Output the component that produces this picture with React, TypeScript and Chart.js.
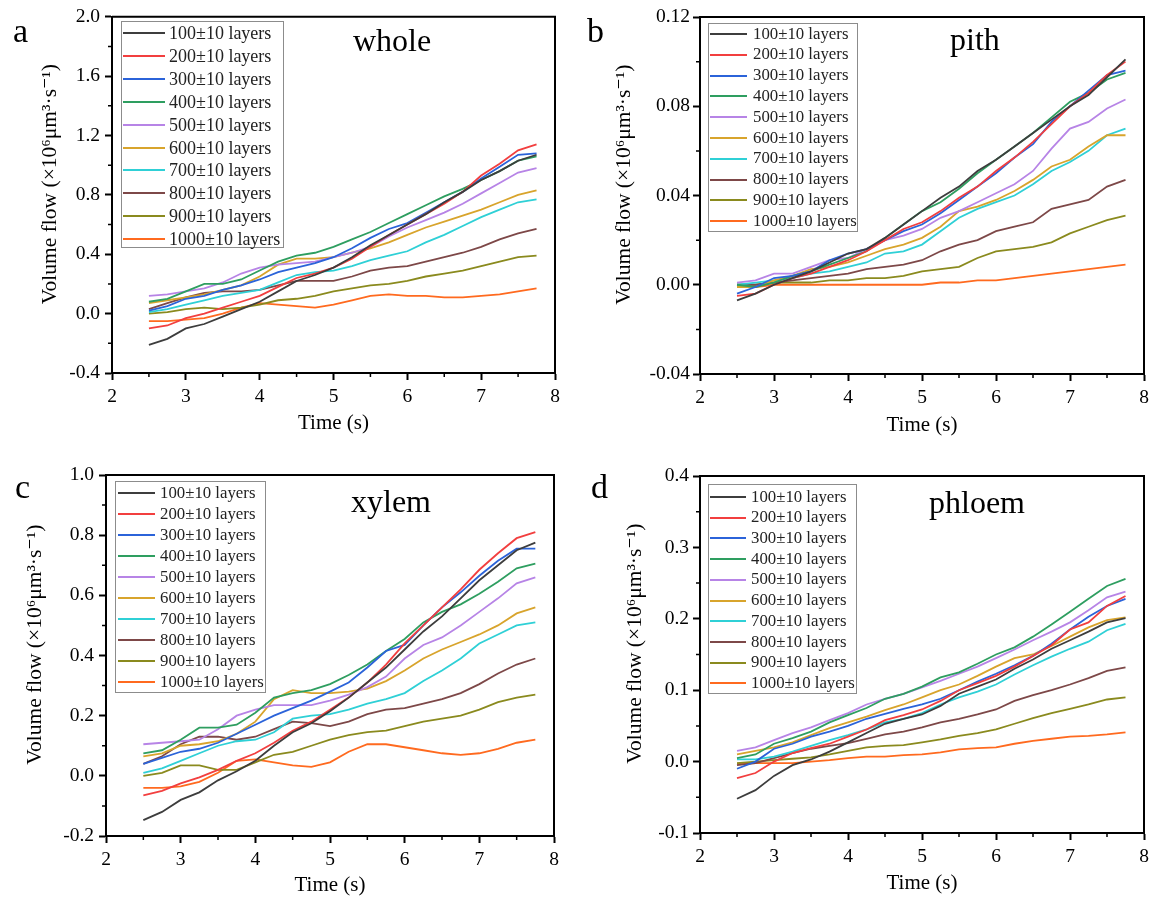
import React, { useEffect, useRef } from "react";
import { Chart, registerables } from "chart.js";

Chart.register(...registerables);

// ---------- data ----------
const timeS = [2.5, 2.75, 3, 3.25, 3.5, 3.75, 4, 4.25, 4.5, 4.75, 5, 5.25, 5.5, 5.75, 6, 6.25, 6.5, 6.75, 7, 7.25, 7.5, 7.75];

const layerLabels = [
  "100±10 layers", "200±10 layers", "300±10 layers", "400±10 layers", "500±10 layers",
  "600±10 layers", "700±10 layers", "800±10 layers", "900±10 layers", "1000±10 layers",
];

const layerColors = ["#3d3d3d", "#f23f3f", "#2b63d9", "#2e9e60", "#b784e6", "#d8a42c", "#2fd0d6", "#7d4848", "#8a8a1e", "#ff6a1f"];

const xTicks = [2, 3, 4, 5, 6, 7, 8];
const wholeTicks = [-0.4, 0, 0.4, 0.8, 1.2, 1.6, 2.0];
const pithTicks = [-0.04, 0, 0.04, 0.08, 0.12];
const xylemTicks = [-0.2, 0, 0.2, 0.4, 0.6, 0.8, 1.0];
const phloemTicks = [-0.1, 0, 0.1, 0.2, 0.3, 0.4];

const wholeFlow: number[][] = [
  [-0.21, -0.17, -0.10, -0.07, -0.02, 0.03, 0.08, 0.15, 0.22, 0.26, 0.31, 0.38, 0.46, 0.53, 0.60, 0.67, 0.75, 0.82, 0.90, 0.96, 1.03, 1.07],
  [-0.10, -0.08, -0.03, 0.00, 0.04, 0.08, 0.12, 0.18, 0.24, 0.27, 0.31, 0.37, 0.45, 0.53, 0.60, 0.67, 0.74, 0.82, 0.93, 1.01, 1.10, 1.14],
  [0.02, 0.05, 0.10, 0.12, 0.16, 0.19, 0.23, 0.28, 0.31, 0.34, 0.38, 0.44, 0.51, 0.57, 0.61, 0.68, 0.75, 0.82, 0.91, 0.99, 1.07, 1.08],
  [0.08, 0.10, 0.15, 0.20, 0.20, 0.23, 0.29, 0.35, 0.39, 0.41, 0.45, 0.50, 0.55, 0.61, 0.67, 0.73, 0.79, 0.84, 0.90, 0.96, 1.03, 1.06],
  [0.12, 0.13, 0.15, 0.17, 0.21, 0.27, 0.31, 0.33, 0.34, 0.35, 0.38, 0.41, 0.45, 0.52, 0.58, 0.63, 0.68, 0.74, 0.81, 0.88, 0.95, 0.98],
  [0.07, 0.09, 0.11, 0.13, 0.16, 0.19, 0.25, 0.33, 0.37, 0.37, 0.38, 0.41, 0.44, 0.48, 0.53, 0.58, 0.62, 0.66, 0.70, 0.75, 0.80, 0.83],
  [0.01, 0.03, 0.06, 0.09, 0.12, 0.14, 0.16, 0.21, 0.26, 0.28, 0.29, 0.32, 0.36, 0.39, 0.42, 0.48, 0.53, 0.59, 0.65, 0.70, 0.75, 0.77],
  [0.03, 0.07, 0.11, 0.14, 0.15, 0.15, 0.16, 0.19, 0.22, 0.22, 0.22, 0.25, 0.29, 0.31, 0.32, 0.35, 0.38, 0.41, 0.45, 0.50, 0.54, 0.57],
  [0.00, 0.01, 0.03, 0.04, 0.03, 0.04, 0.06, 0.09, 0.10, 0.12, 0.15, 0.17, 0.19, 0.20, 0.22, 0.25, 0.27, 0.29, 0.32, 0.35, 0.38, 0.39],
  [-0.05, -0.05, -0.04, -0.03, 0.00, 0.04, 0.07, 0.06, 0.05, 0.04, 0.06, 0.09, 0.12, 0.13, 0.12, 0.12, 0.11, 0.11, 0.12, 0.13, 0.15, 0.17],
];

const pithFlow: number[][] = [
  [-0.007, -0.004, 0.000, 0.003, 0.006, 0.010, 0.014, 0.016, 0.021, 0.027, 0.033, 0.039, 0.044, 0.051, 0.056, 0.062, 0.068, 0.074, 0.080, 0.085, 0.093, 0.101],
  [-0.005, -0.004, 0.000, 0.003, 0.005, 0.008, 0.011, 0.015, 0.020, 0.025, 0.028, 0.033, 0.039, 0.044, 0.051, 0.057, 0.064, 0.072, 0.080, 0.086, 0.094, 0.100],
  [-0.004, -0.001, 0.003, 0.004, 0.006, 0.011, 0.014, 0.016, 0.020, 0.024, 0.027, 0.032, 0.038, 0.044, 0.050, 0.057, 0.063, 0.073, 0.080, 0.087, 0.094, 0.096],
  [0.000, -0.001, 0.001, 0.004, 0.006, 0.009, 0.012, 0.015, 0.021, 0.027, 0.033, 0.037, 0.043, 0.050, 0.056, 0.062, 0.068, 0.075, 0.082, 0.086, 0.092, 0.095],
  [0.001, 0.002, 0.005, 0.005, 0.008, 0.011, 0.012, 0.016, 0.020, 0.022, 0.025, 0.030, 0.033, 0.037, 0.041, 0.045, 0.051, 0.061, 0.070, 0.073, 0.079, 0.083],
  [-0.001, -0.001, 0.002, 0.004, 0.007, 0.008, 0.010, 0.013, 0.016, 0.018, 0.021, 0.026, 0.033, 0.035, 0.038, 0.042, 0.047, 0.053, 0.056, 0.062, 0.067, 0.067],
  [0.000, 0.001, 0.002, 0.003, 0.005, 0.006, 0.008, 0.010, 0.014, 0.015, 0.018, 0.024, 0.030, 0.034, 0.037, 0.040, 0.045, 0.051, 0.055, 0.060, 0.067, 0.070],
  [0.000, 0.000, 0.001, 0.002, 0.003, 0.004, 0.005, 0.007, 0.008, 0.009, 0.011, 0.015, 0.018, 0.020, 0.024, 0.026, 0.028, 0.034, 0.036, 0.038, 0.044, 0.047],
  [0.000, 0.000, 0.001, 0.001, 0.001, 0.002, 0.002, 0.003, 0.003, 0.004, 0.006, 0.007, 0.008, 0.012, 0.015, 0.016, 0.017, 0.019, 0.023, 0.026, 0.029, 0.031],
  [-0.001, -0.001, 0.000, 0.000, 0.000, 0.000, 0.000, 0.000, 0.000, 0.000, 0.000, 0.001, 0.001, 0.002, 0.002, 0.003, 0.004, 0.005, 0.006, 0.007, 0.008, 0.009],
];

const xylemFlow: number[][] = [
  [-0.147, -0.12, -0.08, -0.055, -0.015, 0.015, 0.05, 0.10, 0.145, 0.175, 0.215, 0.26, 0.31, 0.36, 0.42, 0.48, 0.53, 0.59, 0.65, 0.70, 0.75, 0.775],
  [-0.065, -0.05, -0.025, -0.005, 0.02, 0.05, 0.075, 0.11, 0.15, 0.18, 0.22, 0.26, 0.31, 0.37, 0.44, 0.50, 0.56, 0.62, 0.685, 0.74, 0.79, 0.81],
  [0.04, 0.06, 0.08, 0.09, 0.11, 0.14, 0.17, 0.20, 0.225, 0.25, 0.28, 0.31, 0.36, 0.415, 0.435, 0.50, 0.56, 0.61, 0.665, 0.715, 0.755, 0.755],
  [0.075, 0.085, 0.12, 0.16, 0.16, 0.17, 0.21, 0.26, 0.275, 0.285, 0.305, 0.335, 0.37, 0.415, 0.455, 0.51, 0.545, 0.57, 0.605, 0.645, 0.69, 0.705],
  [0.105, 0.11, 0.115, 0.12, 0.155, 0.20, 0.22, 0.235, 0.235, 0.235, 0.25, 0.27, 0.295, 0.33, 0.39, 0.435, 0.46, 0.50, 0.545, 0.59, 0.64, 0.66],
  [0.065, 0.075, 0.10, 0.105, 0.115, 0.14, 0.18, 0.255, 0.285, 0.275, 0.275, 0.28, 0.29, 0.315, 0.35, 0.39, 0.42, 0.445, 0.47, 0.50, 0.54, 0.56],
  [0.01, 0.025, 0.05, 0.075, 0.10, 0.115, 0.12, 0.145, 0.19, 0.20, 0.205, 0.22, 0.24, 0.255, 0.275, 0.315, 0.35, 0.39, 0.44, 0.47, 0.50, 0.51],
  [0.04, 0.065, 0.105, 0.13, 0.13, 0.12, 0.13, 0.155, 0.18, 0.175, 0.165, 0.18, 0.205, 0.22, 0.225, 0.24, 0.255, 0.275, 0.305, 0.34, 0.37, 0.39],
  [0.00, 0.01, 0.035, 0.035, 0.02, 0.02, 0.045, 0.07, 0.08, 0.10, 0.12, 0.135, 0.145, 0.15, 0.165, 0.18, 0.19, 0.20, 0.22, 0.245, 0.26, 0.27],
  [-0.04, -0.04, -0.035, -0.02, 0.01, 0.05, 0.055, 0.045, 0.035, 0.03, 0.045, 0.08, 0.105, 0.105, 0.095, 0.085, 0.075, 0.07, 0.075, 0.09, 0.11, 0.12],
];

const phloemFlow: number[][] = [
  [-0.052, -0.04, -0.02, -0.005, 0.003, 0.014, 0.027, 0.040, 0.053, 0.060, 0.066, 0.078, 0.095, 0.105, 0.115, 0.130, 0.143, 0.158, 0.170, 0.182, 0.195, 0.201],
  [-0.023, -0.016, 0.000, 0.012, 0.019, 0.025, 0.035, 0.045, 0.058, 0.065, 0.073, 0.085, 0.100, 0.110, 0.120, 0.133, 0.148, 0.163, 0.185, 0.195, 0.218, 0.232],
  [-0.010, 0.000, 0.018, 0.025, 0.035, 0.042, 0.050, 0.060, 0.067, 0.074, 0.080, 0.088, 0.100, 0.112, 0.123, 0.135, 0.148, 0.165, 0.185, 0.203, 0.218, 0.228],
  [0.005, 0.010, 0.025, 0.033, 0.042, 0.055, 0.065, 0.075, 0.088, 0.095, 0.105, 0.118, 0.125, 0.137, 0.150, 0.160, 0.175, 0.192, 0.210, 0.228, 0.246, 0.256],
  [0.015, 0.020, 0.030, 0.040, 0.048, 0.058, 0.068, 0.080, 0.088, 0.095, 0.104, 0.113, 0.123, 0.133, 0.145, 0.157, 0.170, 0.182, 0.195, 0.212, 0.230, 0.238],
  [0.010, 0.015, 0.020, 0.027, 0.037, 0.047, 0.055, 0.063, 0.072, 0.080, 0.090, 0.100, 0.108, 0.120, 0.133, 0.145, 0.150, 0.162, 0.175, 0.188, 0.198, 0.202],
  [0.003, 0.003, 0.007, 0.014, 0.022, 0.030, 0.037, 0.045, 0.055, 0.060, 0.068, 0.080, 0.090, 0.098, 0.108, 0.122, 0.135, 0.147, 0.158, 0.168, 0.184, 0.193],
  [-0.005, -0.002, 0.005, 0.012, 0.018, 0.022, 0.026, 0.032, 0.038, 0.042, 0.048, 0.055, 0.060, 0.066, 0.073, 0.085, 0.093, 0.100, 0.108, 0.117, 0.127, 0.132],
  [-0.002, 0.000, 0.002, 0.004, 0.006, 0.010, 0.015, 0.020, 0.022, 0.023, 0.027, 0.031, 0.036, 0.040, 0.045, 0.053, 0.061, 0.068, 0.074, 0.080, 0.087, 0.090],
  [-0.003, -0.002, -0.002, -0.002, 0.000, 0.002, 0.005, 0.007, 0.007, 0.009, 0.010, 0.013, 0.017, 0.019, 0.020, 0.025, 0.029, 0.032, 0.035, 0.036, 0.038, 0.041],
];

// ---------- layout ----------
const SERIF = "'Liberation Serif', 'Times New Roman', 'DejaVu Serif', serif";
const Y_TITLE = "\u2002\u2002Volume flow (×10⁶μm³·s⁻¹)";

type Panel = {
  letter: string; title: string; series: number[][]; yTicks: number[]; dec: number;
  left: number; top: number; w: number; h: number;
  padTop: number; padRight: number; yW: number; xH: number;
  yTitlePad: number; xTitlePad: number; yTickPad: number;
  letterX: number; letterY: number; titleX: number; titleY: number;
  lg: { left: number; top: number; w: number; h: number; row0: number; step: number; line0: number; line1: number; textX: number; fs: number };
};

const panels: Panel[] = [
  {
    letter: "a", title: "whole", series: wholeFlow, yTicks: wholeTicks, dec: 1,
    left: 0, top: 0, w: 580, h: 450, padTop: 16, padRight: 25, yW: 112, xH: 77,
    yTitlePad: 37, xTitlePad: 14, yTickPad: 5,
    letterX: 13, letterY: 42, titleX: 353, titleY: 51,
    lg: { left: 121, top: 21, w: 163, h: 227, row0: 33, step: 22.9, line0: 123, line1: 165, textX: 169, fs: 18 },
  },
  {
    letter: "b", title: "pith", series: pithFlow, yTicks: pithTicks, dec: 2,
    left: 580, top: 0, w: 579, h: 450, padTop: 17, padRight: 15, yW: 120, xH: 76,
    yTitlePad: 31, xTitlePad: 12, yTickPad: 3,
    letterX: 587, letterY: 42, titleX: 950, titleY: 50,
    lg: { left: 708, top: 23, w: 150, h: 209, row0: 34, step: 20.8, line0: 710, line1: 747, textX: 753, fs: 16.8 },
  },
  {
    letter: "c", title: "xylem", series: xylemFlow, yTicks: xylemTicks, dec: 1,
    left: 0, top: 450, w: 580, h: 448, padTop: 25, padRight: 26, yW: 106, xH: 62,
    yTitlePad: 22, xTitlePad: 0, yTickPad: 5,
    letterX: 15, letterY: 498, titleX: 351, titleY: 512,
    lg: { left: 115, top: 481, w: 151, h: 212, row0: 493, step: 21, line0: 118, line1: 155, textX: 160, fs: 16.8 },
  },
  {
    letter: "d", title: "phloem", series: phloemFlow, yTicks: phloemTicks, dec: 1,
    left: 580, top: 450, w: 579, h: 448, padTop: 26, padRight: 15, yW: 120, xH: 65,
    yTitlePad: 42, xTitlePad: 2, yTickPad: 4,
    letterX: 591, letterY: 498, titleX: 929, titleY: 513,
    lg: { left: 708, top: 484, w: 149, h: 210, row0: 497, step: 20.7, line0: 710, line1: 746, textX: 751, fs: 16.8 },
  },
];

const frameMinorPlugin = {
  id: "frameMinor",
  afterDraw(chart: any) {
    const { ctx, chartArea: a, scales } = chart;
    ctx.save();
    ctx.strokeStyle = "#000";
    ctx.lineWidth = 2;
    ctx.beginPath();
    ctx.moveTo(a.left, a.top);
    ctx.lineTo(a.right, a.top);
    ctx.lineTo(a.right, a.bottom);
    ctx.stroke();
    ctx.lineWidth = 1.5;
    ctx.beginPath();
    const xt = scales.x.ticks.map((t: any) => t.value);
    for (let i = 0; i < xt.length - 1; i++) {
      const px = scales.x.getPixelForValue((xt[i] + xt[i + 1]) / 2);
      ctx.moveTo(px, a.bottom);
      ctx.lineTo(px, a.bottom + 4);
    }
    const yt = scales.y.ticks.map((t: any) => t.value);
    for (let i = 0; i < yt.length - 1; i++) {
      const py = scales.y.getPixelForValue((yt[i] + yt[i + 1]) / 2);
      ctx.moveTo(a.left, py);
      ctx.lineTo(a.left - 4, py);
    }
    ctx.stroke();
    ctx.restore();
  },
};

function PanelChart({ p }: { p: Panel }) {
  const ref = useRef<HTMLCanvasElement>(null);
  useEffect(() => {
    if (!ref.current) return;
    const datasets = p.series.map((vals, i) => ({
      label: layerLabels[i],
      data: vals.map((v, j) => ({ x: timeS[j], y: v })),
      borderColor: layerColors[i],
      backgroundColor: layerColors[i],
      borderWidth: 1.8,
      pointRadius: 0,
      tension: 0,
      fill: false,
    }));
    const axisCommon = {
      type: "linear" as const,
      grid: { drawOnChartArea: false, drawTicks: true, tickLength: 7, tickWidth: 2, tickColor: "#000" },
      border: { display: true, color: "#000", width: 2 },
    };
    const chart = new Chart(ref.current, {
      type: "line",
      data: { datasets },
      plugins: [frameMinorPlugin],
      options: {
        responsive: false,
        animation: false,
        layout: { padding: { left: 0, top: p.padTop, right: p.padRight, bottom: 0 } },
        plugins: { legend: { display: false }, tooltip: { enabled: false } },
        scales: {
          x: {
            ...axisCommon,
            min: xTicks[0],
            max: xTicks[xTicks.length - 1],
            afterFit: (s: any) => { s.height = p.xH; },
            afterBuildTicks: (s: any) => { s.ticks = xTicks.map((v) => ({ value: v })); },
            ticks: { font: { family: SERIF, size: 19.5 }, color: "#000", padding: 5, maxRotation: 0, autoSkip: false, callback: (v: any) => String(v) },
            title: { display: true, text: "Time (s)", font: { family: SERIF, size: 21 }, color: "#000", padding: { top: 0, bottom: p.xTitlePad } },
          },
          y: {
            ...axisCommon,
            min: p.yTicks[0],
            max: p.yTicks[p.yTicks.length - 1],
            afterFit: (s: any) => { s.width = p.yW; },
            afterBuildTicks: (s: any) => { s.ticks = p.yTicks.map((v) => ({ value: v })); },
            ticks: { font: { family: SERIF, size: 19.5 }, color: "#000", padding: p.yTickPad, autoSkip: false, callback: (v: any) => Number(v).toFixed(p.dec) },
            title: { display: true, text: Y_TITLE, font: { family: SERIF, size: 21.5 }, color: "#000", padding: { top: p.yTitlePad, bottom: 0 } },
          },
        },
      } as any,
    });
    return () => chart.destroy();
  }, [p]);
  return (
    <canvas
      ref={ref}
      width={p.w}
      height={p.h}
      style={{ position: "absolute", left: p.left, top: p.top, width: p.w, height: p.h, display: "block" }}
    />
  );
}

function Overlay({ p }: { p: Panel }) {
  const lg = p.lg;
  const letterFs = 34;
  const titleFs = 32;
  return (
    <>
      <div style={{ position: "absolute", left: p.letterX, top: p.letterY - 0.8375 * letterFs, fontFamily: SERIF, fontSize: letterFs, lineHeight: 1, whiteSpace: "nowrap", color: "#000" }}>{p.letter}</div>
      <div style={{ position: "absolute", left: p.titleX, top: p.titleY - 0.8375 * titleFs, fontFamily: SERIF, fontSize: titleFs, lineHeight: 1, whiteSpace: "nowrap", color: "#000" }}>{p.title}</div>
      <div style={{ position: "absolute", left: lg.left, top: lg.top, width: lg.w, height: lg.h, border: "1.5px solid #8c8c8c", boxSizing: "border-box" }} />
      {layerLabels.map((lab, i) => {
        const cy = lg.row0 + i * lg.step;
        return (
          <React.Fragment key={lab}>
            <div style={{ position: "absolute", left: lg.line0, top: cy - 1, width: lg.line1 - lg.line0, height: 2, background: layerColors[i] }} />
            <div style={{ position: "absolute", left: lg.textX, top: cy - lg.fs / 2, fontFamily: SERIF, fontSize: lg.fs, lineHeight: 1, whiteSpace: "nowrap", color: "#222" }}>{lab}</div>
          </React.Fragment>
        );
      })}
    </>
  );
}

export default function App() {
  return (
    <div style={{ position: "absolute", left: 0, top: 0, width: 1159, height: 898, background: "#fff", overflow: "hidden" }}>
      {panels.map((p) => (
        <PanelChart key={p.letter} p={p} />
      ))}
      {panels.map((p) => (
        <Overlay key={"o" + p.letter} p={p} />
      ))}
    </div>
  );
}
